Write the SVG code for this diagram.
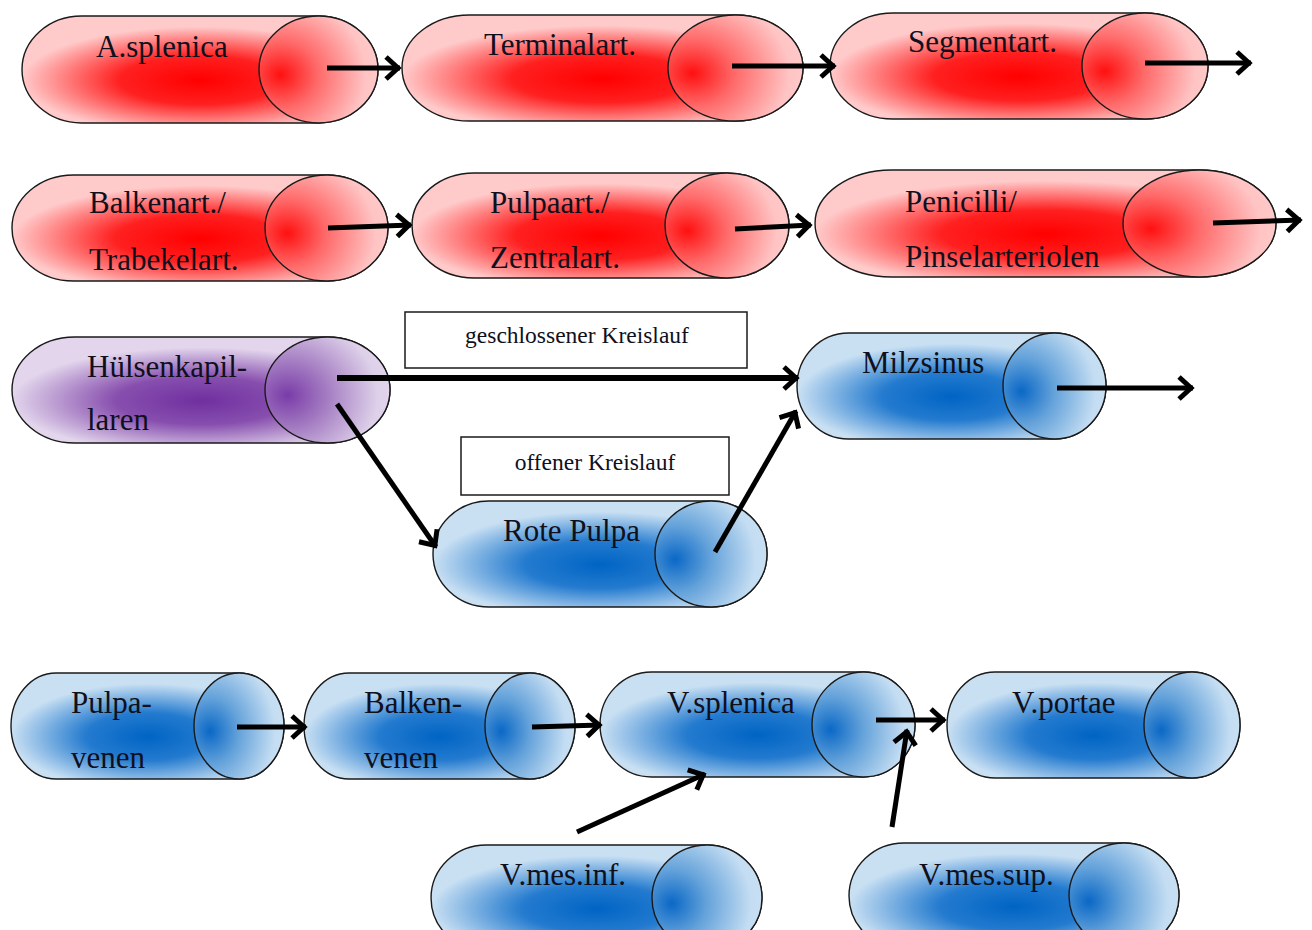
<svg xmlns="http://www.w3.org/2000/svg" width="1312" height="930" viewBox="0 0 1312 930">
<style>
.edge{fill:none;stroke:#000;stroke-width:5;marker-end:url(#ah)}
.outline{stroke:#1a1a1a;stroke-width:1.4}
.t{font-family:"Liberation Serif","Times New Roman",serif;font-size:31px;fill:#10101c}
.lbl{font-family:"Liberation Serif","Times New Roman",serif;font-size:23.5px;fill:#10101c;text-anchor:middle}
.box{fill:#fff;stroke:#1a1a1a;stroke-width:1.5}
.red .body{fill:url(#rb)} .red .cap{fill:url(#rc)}
.blue .body{fill:url(#bb)} .blue .cap{fill:url(#bc)}
.pur .body{fill:url(#pb)} .pur .cap{fill:url(#pc)}
</style>
<defs>
<radialGradient id="rb" cx="0.5" cy="0.6" r="0.5"><stop offset="0" stop-color="#ff0000"/><stop offset="0.45" stop-color="#ff2020"/><stop offset="1" stop-color="#ffcaca"/></radialGradient>
<radialGradient id="rc" cx="0.18" cy="0.55" r="0.9"><stop offset="0" stop-color="#ff1010"/><stop offset="0.35" stop-color="#ff6a6a"/><stop offset="0.8" stop-color="#ffc4c4"/><stop offset="1" stop-color="#ffcccc"/></radialGradient>
<radialGradient id="bb" cx="0.5" cy="0.6" r="0.5"><stop offset="0" stop-color="#0064c4"/><stop offset="0.45" stop-color="#247bcf"/><stop offset="1" stop-color="#c9e0f3"/></radialGradient>
<radialGradient id="bc" cx="0.18" cy="0.55" r="0.9"><stop offset="0" stop-color="#0a68c6"/><stop offset="0.35" stop-color="#64a2da"/><stop offset="0.8" stop-color="#c4ddf2"/><stop offset="1" stop-color="#cbe1f3"/></radialGradient>
<radialGradient id="pb" cx="0.5" cy="0.6" r="0.5"><stop offset="0" stop-color="#7030a0"/><stop offset="0.45" stop-color="#874eae"/><stop offset="1" stop-color="#e2d5ec"/></radialGradient>
<radialGradient id="pc" cx="0.18" cy="0.55" r="0.9"><stop offset="0" stop-color="#7a3ca8"/><stop offset="0.35" stop-color="#a47cc2"/><stop offset="0.8" stop-color="#ddd0e9"/><stop offset="1" stop-color="#e3d6ed"/></radialGradient>
<marker id="ah" markerUnits="userSpaceOnUse" viewBox="-22 -16 26 32" refX="0" refY="0" markerWidth="26" markerHeight="32" orient="auto" overflow="visible">
<path d="M-14,-11 L-2,0 L-14,11" fill="none" stroke="#000" stroke-width="5" stroke-linejoin="miter"/>
</marker>
</defs>

<g id="label-closed"><rect class="box" x="405" y="312" width="342" height="56"/><text class="lbl" x="577" y="343">geschlossener Kreislauf</text></g>
<g id="label-open"><rect class="box" x="461" y="437" width="268" height="58"/><text class="lbl" x="595" y="470">offener Kreislauf</text></g>

<g id="n-asplenica" class="red">
<path class="body outline" d="M81.5,16 L318.5,16 A59.5,53.5 0 0 1 318.5,123 L81.5,123 A59.5,53.5 0 0 1 81.5,16 Z"/>
<ellipse class="cap outline" cx="318.5" cy="69.5" rx="59.5" ry="53.5"/>
<text class="t" x="96" y="57">A.splenica</text>
</g>
<g id="n-terminalart" class="red">
<path class="body outline" d="M469.5,15 L735.5,15 A67.5,53 0 0 1 735.5,121 L469.5,121 A67.5,53 0 0 1 469.5,15 Z"/>
<ellipse class="cap outline" cx="735.5" cy="68" rx="67.5" ry="53"/>
<text class="t" x="484" y="55">Terminalart.</text>
</g>
<g id="n-segmentart" class="red">
<path class="body outline" d="M893,13 L1145,13 A63,53 0 0 1 1145,119 L893,119 A63,53 0 0 1 893,13 Z"/>
<ellipse class="cap outline" cx="1145" cy="66" rx="63" ry="53"/>
<text class="t" x="908" y="52">Segmentart.</text>
</g>
<g id="n-balkenart" class="red">
<path class="body outline" d="M73.5,175 L326.5,175 A61.5,53 0 0 1 326.5,281 L73.5,281 A61.5,53 0 0 1 73.5,175 Z"/>
<ellipse class="cap outline" cx="326.5" cy="228" rx="61.5" ry="53"/>
<text class="t" x="89" y="213">Balkenart./</text>
<text class="t" x="89" y="270">Trabekelart.</text>
</g>
<g id="n-pulpaart" class="red">
<path class="body outline" d="M474,173 L727,173 A62,52.5 0 0 1 727,278 L474,278 A62,52.5 0 0 1 474,173 Z"/>
<ellipse class="cap outline" cx="727" cy="225.5" rx="62" ry="52.5"/>
<text class="t" x="490" y="213">Pulpaart./</text>
<text class="t" x="490" y="268">Zentralart.</text>
</g>
<g id="n-penicilli" class="red">
<path class="body outline" d="M891.5,170 L1199.5,170 A76.5,53.5 0 0 1 1199.5,277 L891.5,277 A76.5,53.5 0 0 1 891.5,170 Z"/>
<ellipse class="cap outline" cx="1199.5" cy="223.5" rx="76.5" ry="53.5"/>
<text class="t" x="905" y="212">Penicilli/</text>
<text class="t" x="905" y="267">Pinselarteriolen</text>
</g>
<g id="n-huelsenkapillaren" class="pur">
<path class="body outline" d="M74.5,337 L327.5,337 A62.5,53 0 0 1 327.5,443 L74.5,443 A62.5,53 0 0 1 74.5,337 Z"/>
<ellipse class="cap outline" cx="327.5" cy="390" rx="62.5" ry="53"/>
<text class="t" x="87" y="377">Hülsenkapil-</text>
<text class="t" x="87" y="430">laren</text>
</g>
<g id="n-milzsinus" class="blue">
<path class="body outline" d="M848.5,333 L1054.5,333 A51.5,53 0 0 1 1054.5,439 L848.5,439 A51.5,53 0 0 1 848.5,333 Z"/>
<ellipse class="cap outline" cx="1054.5" cy="386" rx="51.5" ry="53"/>
<text class="t" x="862" y="373">Milzsinus</text>
</g>
<g id="n-rotepulpa" class="blue">
<path class="body outline" d="M489,501 L711,501 A56,53 0 0 1 711,607 L489,607 A56,53 0 0 1 489,501 Z"/>
<ellipse class="cap outline" cx="711" cy="554" rx="56" ry="53"/>
<text class="t" x="503" y="541">Rote Pulpa</text>
</g>
<g id="n-pulpavenen" class="blue">
<path class="body outline" d="M56,673 L239,673 A45,53 0 0 1 239,779 L56,779 A45,53 0 0 1 56,673 Z"/>
<ellipse class="cap outline" cx="239" cy="726" rx="45" ry="53"/>
<text class="t" x="71" y="713">Pulpa-</text>
<text class="t" x="71" y="768">venen</text>
</g>
<g id="n-balkenvenen" class="blue">
<path class="body outline" d="M349,673 L530,673 A45,53 0 0 1 530,779 L349,779 A45,53 0 0 1 349,673 Z"/>
<ellipse class="cap outline" cx="530" cy="726" rx="45" ry="53"/>
<text class="t" x="364" y="713">Balken-</text>
<text class="t" x="364" y="768">venen</text>
</g>
<g id="n-vsplenica" class="blue">
<path class="body outline" d="M651.5,672 L863.5,672 A51.5,52.5 0 0 1 863.5,777 L651.5,777 A51.5,52.5 0 0 1 651.5,672 Z"/>
<ellipse class="cap outline" cx="863.5" cy="724.5" rx="51.5" ry="52.5"/>
<text class="t" x="667" y="713">V.splenica</text>
</g>
<g id="n-vportae" class="blue">
<path class="body outline" d="M995,672 L1192,672 A48,53 0 0 1 1192,778 L995,778 A48,53 0 0 1 995,672 Z"/>
<ellipse class="cap outline" cx="1192" cy="725" rx="48" ry="53"/>
<text class="t" x="1012" y="713">V.portae</text>
</g>
<g id="n-vmesinf" class="blue">
<path class="body outline" d="M486,845 L707,845 A55,53 0 0 1 707,951 L486,951 A55,53 0 0 1 486,845 Z"/>
<ellipse class="cap outline" cx="707" cy="898" rx="55" ry="53"/>
<text class="t" x="500" y="885">V.mes.inf.</text>
</g>
<g id="n-vmessup" class="blue">
<path class="body outline" d="M904,843 L1124,843 A55,53 0 0 1 1124,949 L904,949 A55,53 0 0 1 904,843 Z"/>
<ellipse class="cap outline" cx="1124" cy="896" rx="55" ry="53"/>
<text class="t" x="919" y="885">V.mes.sup.</text>
</g>

<g id="connectors">
<path class="edge" d="M327,68 L400,68"/>
<path class="edge" d="M732,66 L835,66"/>
<path class="edge" d="M1145,63 L1251,63"/>
<path class="edge" d="M328,228 L411,225"/>
<path class="edge" d="M735,229 L811,225"/>
<path class="edge" d="M1213,223 L1301,220"/>
<path class="edge" style="stroke-width:6" d="M337,378 L798,378"/>
<path class="edge" d="M337,404 L436,547"/>
<path class="edge" d="M715,552 L796,411"/>
<path class="edge" d="M1057,388 L1193,388"/>
<path class="edge" d="M237,727 L306,727"/>
<path class="edge" d="M532,727 L601,725"/>
<path class="edge" d="M876,720 L945,720"/>
<path class="edge" d="M577,832 L705,774"/>
<path class="edge" d="M892,827 L907,730"/>
</g>
</svg>
